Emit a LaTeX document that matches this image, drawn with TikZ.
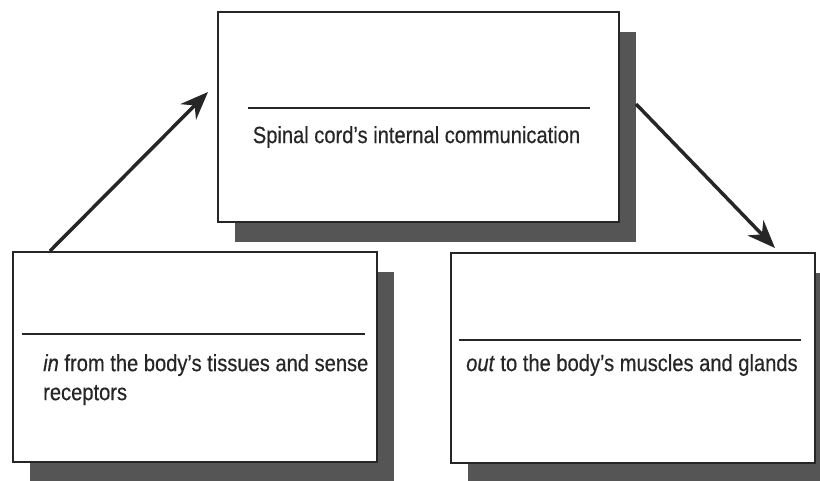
\documentclass[tikz,border=0pt]{standalone}
\usepackage{fontspec}
\setmainfont[FakeStretch=0.86,FakeBold=0.4]{Liberation Sans}
\usetikzlibrary{arrows.meta,shadows}
\definecolor{ink}{HTML}{262626}
\definecolor{shade}{HTML}{555555}
\tikzset{
  box/.style={draw=ink, line width=1.6pt, fill=white, minimum width=#1, minimum height=210pt, inner sep=0pt,
    drop shadow={shadow xshift=17pt, shadow yshift=-20pt, fill=shade, opacity=1}},
  rule/.style={draw=ink, line width=1.4pt},
  lbl/.style={text=ink, font=\fontsize{23.4}{29}\selectfont, inner sep=0pt},
  flow/.style={draw=ink, line width=3.5pt, -{Stealth[length=28pt,width=22pt]}}
}
\begin{document}
\begin{tikzpicture}[x=1pt,y=-1pt]
\useasboundingbox (0,0) rectangle (820,481);
\node[box=401pt] (top) at (418.5,117) {};
\node[box=364pt] (left) at (195,357) {};
\node[box=364pt] (right) at (633,358) {};
% divider lines
\coordinate (t1) at (248,108); \coordinate (t2) at (590,108);
\coordinate (l1) at (22,334); \coordinate (l2) at (365,334);
\coordinate (r1) at (459,340); \coordinate (r2) at (801,340);
\draw[rule] (t1) -- (t2);
\draw[rule] (l1) -- (l2);
\draw[rule] (r1) -- (r2);
% texts
\node[lbl] (ttext) at (416.5,137) {Spinal cord’s internal communication};
\node[lbl, anchor=north west, align=left] (ltext) at (43,354) {\textit{in} from the body’s tissues and sense\\receptors};
\node[lbl, anchor=west] (rtext) at (466,365) {\textit{out} to the body’s muscles and glands};
% arrows
\coordinate (a1) at (50,251);
\coordinate (a2) at (208,92);
\coordinate (b1) at (636,104);
\coordinate (b2) at (775,248);
\draw[flow] (a1) -- (a2);
\draw[flow] (b1) -- (b2);
\end{tikzpicture}
\end{document}
